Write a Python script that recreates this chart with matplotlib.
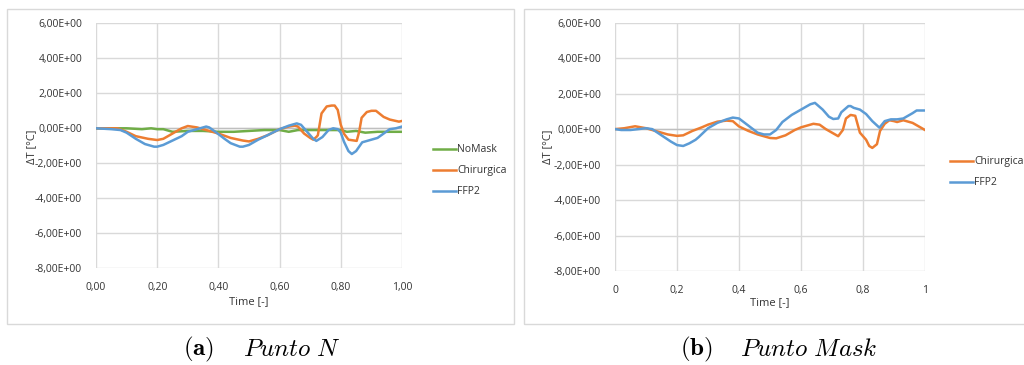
import matplotlib
matplotlib.use("Agg")
import matplotlib.pyplot as plt
from matplotlib.patches import Rectangle

# ---- data: Punto N ----
t_nomask = [0.0, 0.05, 0.1, 0.15, 0.18, 0.2, 0.22, 0.25, 0.3, 0.35, 0.4, 0.45, 0.5, 0.55,
            0.6, 0.63, 0.66, 0.7, 0.75, 0.8, 0.82, 0.85, 0.88, 0.92, 0.95, 1.0]
nomask = [0.0, 0.0, 0.0, -0.05, 0.0, -0.05, -0.05, -0.2, -0.15, -0.15, -0.2, -0.2, -0.15, -0.1,
          -0.1, -0.2, -0.1, -0.1, -0.1, -0.1, -0.2, -0.15, -0.25, -0.2, -0.2, -0.2]

t_chir_n = [0.0, 0.07, 0.1, 0.13, 0.17, 0.2, 0.22, 0.25, 0.28, 0.3, 0.33, 0.37, 0.4, 0.44,
            0.48, 0.5, 0.53, 0.56, 0.6, 0.63, 0.65, 0.66, 0.68, 0.7, 0.71, 0.72, 0.725,
            0.737, 0.754, 0.77, 0.78, 0.79, 0.8, 0.81, 0.825, 0.852, 0.86, 0.868, 0.885,
            0.9, 0.915, 0.94, 0.96, 0.98, 0.99, 1.0]
chir_n = [0.0, 0.0, -0.2, -0.45, -0.6, -0.67, -0.6, -0.3, 0.0, 0.13, 0.05, -0.15, -0.3, -0.55,
          -0.7, -0.75, -0.6, -0.4, -0.05, 0.1, 0.15, 0.1, -0.3, -0.55, -0.65, -0.5, -0.4,
          0.85, 1.25, 1.3, 1.3, 1.05, 0.2, -0.3, -0.65, -0.72, -0.2, 0.6, 0.93,
          1.0, 1.0, 0.65, 0.5, 0.42, 0.38, 0.42]

t_ffp2_n = [0.0, 0.05, 0.08, 0.1, 0.13, 0.16, 0.19, 0.2, 0.22, 0.25, 0.28, 0.3, 0.33, 0.36,
            0.37, 0.39, 0.42, 0.44, 0.47, 0.48, 0.5, 0.53, 0.56, 0.6, 0.63, 0.656, 0.67,
            0.69, 0.71, 0.72, 0.74, 0.76, 0.775, 0.79, 0.8, 0.81, 0.825, 0.836, 0.85,
            0.87, 0.89, 0.92, 0.94, 0.96, 0.98, 1.0]
ffp2_n = [0.0, -0.05, -0.1, -0.25, -0.6, -0.9, -1.05, -1.05, -0.95, -0.7, -0.45, -0.2, -0.05, 0.1,
          0.05, -0.2, -0.6, -0.85, -1.05, -1.05, -0.95, -0.65, -0.4, -0.05, 0.15, 0.28, 0.2,
          -0.2, -0.6, -0.72, -0.5, -0.1, 0.0, -0.05, -0.25, -0.75, -1.3, -1.47, -1.3,
          -0.8, -0.7, -0.55, -0.3, -0.05, 0.0, 0.1]

# ---- data: Punto Mask ----
t_chir_m = [0.0, 0.03, 0.065, 0.1, 0.13, 0.17, 0.2, 0.22, 0.25, 0.28, 0.3, 0.33, 0.36, 0.38,
            0.4, 0.43, 0.46, 0.5, 0.52, 0.55, 0.58, 0.6, 0.64, 0.66, 0.68, 0.71, 0.72,
            0.735, 0.745, 0.76, 0.775, 0.79, 0.81, 0.82, 0.83, 0.845, 0.855, 0.87, 0.885,
            0.9, 0.91, 0.93, 0.96, 1.0]
chir_m = [0.0, 0.05, 0.16, 0.05, -0.1, -0.3, -0.38, -0.35, -0.1, 0.1, 0.25, 0.42, 0.48, 0.45,
          0.15, -0.1, -0.3, -0.5, -0.52, -0.35, -0.05, 0.1, 0.3, 0.25, 0.0, -0.3, -0.4,
          -0.05, 0.6, 0.8, 0.75, -0.2, -0.6, -0.95, -1.06, -0.85, -0.1, 0.3, 0.5,
          0.45, 0.4, 0.5, 0.35, -0.05]

t_ffp2_m = [0.0, 0.02, 0.05, 0.1, 0.12, 0.15, 0.18, 0.2, 0.22, 0.24, 0.26, 0.27, 0.3, 0.33,
            0.36, 0.38, 0.4, 0.43, 0.46, 0.48, 0.5, 0.52, 0.54, 0.57, 0.6, 0.63, 0.645,
            0.67, 0.69, 0.704, 0.72, 0.73, 0.753, 0.76, 0.77, 0.79, 0.81, 0.83, 0.853,
            0.87, 0.89, 0.91, 0.93, 0.96, 0.973, 1.0]
ffp2_m = [0.0, -0.05, -0.05, 0.05, 0.0, -0.35, -0.7, -0.9, -0.95, -0.8, -0.6, -0.45, 0.05, 0.35,
          0.55, 0.65, 0.6, 0.2, -0.2, -0.3, -0.3, -0.05, 0.4, 0.8, 1.1, 1.4, 1.48,
          1.1, 0.7, 0.57, 0.6, 0.95, 1.3, 1.3, 1.2, 1.1, 0.85, 0.45, 0.08,
          0.45, 0.55, 0.55, 0.6, 0.9, 1.05, 1.05]

y_ticks = [6, 4, 2, 0, -2, -4, -6, -8]
y_labels = ["6,00E+00", "4,00E+00", "2,00E+00", "0,00E+00",
            "-2,00E+00", "-4,00E+00", "-6,00E+00", "-8,00E+00"]
x_ticks = [0.0, 0.2, 0.4, 0.6, 0.8, 1.0]
x_labels_a = ["0,00", "0,20", "0,40", "0,60", "0,80", "1,00"]
x_labels_b = ["0", "0,2", "0,4", "0,6", "0,8", "1"]

ORANGE = "#ED7D31"
BLUE = "#5B9BD5"
GREEN = "#70AD47"
GRID = "#d9d9d9"
TXT = "#333333"
FONT = "Open Sans"

W, H = 1024, 365
plt.rcParams["mathtext.fontset"] = "cm"
fig = plt.figure(figsize=(W / 100, H / 100), dpi=100)


def fx(px):
    return px / W


def fy(py):
    return 1 - py / H


# panel frames
fig.patches.append(Rectangle((fx(7), fy(324)), fx(507), (324 - 9) / H,
                             transform=fig.transFigure, fill=False, ec=GRID, lw=1.0))
fig.patches.append(Rectangle((fx(524), fy(324)), fx(520), (324 - 9) / H,
                             transform=fig.transFigure, fill=False, ec=GRID, lw=1.0))


def style_axes(ax, xlabels):
    ax.set_xlim(0, 1)
    ax.set_ylim(-8, 6)
    ax.set_yticks(y_ticks)
    ax.set_yticklabels(y_labels)
    ax.set_xticks(x_ticks)
    ax.set_xticklabels(xlabels)
    for s in ax.spines.values():
        s.set_visible(False)
    ax.grid(True, color=GRID, lw=1.0)
    ax.axhline(0, color="#bfbfbf", lw=1.0, zorder=1)
    ax.tick_params(length=0, labelsize=7.5, colors=TXT, pad=10)
    for lab in ax.get_xticklabels() + ax.get_yticklabels():
        lab.set_fontfamily(FONT)
    ax.set_axisbelow(True)


# (a) Punto N
ax1 = fig.add_axes([fx(96), fy(268.3), fx(306), 245 / H])
style_axes(ax1, x_labels_a)
l_nm, = ax1.plot(t_nomask, nomask, color=GREEN, lw=1.8, label="NoMask")
l_c1, = ax1.plot(t_chir_n, chir_n, color=ORANGE, lw=1.8, label="Chirurgica")
l_f1, = ax1.plot(t_ffp2_n, ffp2_n, color=BLUE, lw=1.8, label="FFP2")
fig.text(fx(32), fy(147), "ΔT [°C]", rotation=90, ha="center", va="center",
         fontsize=8, color=TXT, family=FONT)
fig.text(fx(249), fy(302), "Time [-]", ha="center", va="center",
         fontsize=8, color=TXT, family=FONT)
fig.legend(handles=[l_nm, l_c1, l_f1], loc="upper left",
           bbox_to_anchor=(fx(424), fy(135)), frameon=False, handlelength=2.2,
           handletextpad=0.1, labelspacing=0.95,
           prop={"family": FONT, "size": 7.5}, labelcolor=TXT)

# (b) Punto Mask
ax2 = fig.add_axes([fx(615), fy(271), fx(310), 248.3 / H])
style_axes(ax2, x_labels_b)
l_c2, = ax2.plot(t_chir_m, chir_m, color=ORANGE, lw=1.8, label="Chirurgica")
l_f2, = ax2.plot(t_ffp2_m, ffp2_m, color=BLUE, lw=1.8, label="FFP2")
fig.text(fx(548), fy(147), "ΔT [°C]", rotation=90, ha="center", va="center",
         fontsize=8, color=TXT, family=FONT)
fig.text(fx(770), fy(303), "Time [-]", ha="center", va="center",
         fontsize=8, color=TXT, family=FONT)
fig.legend(handles=[l_c2, l_f2], loc="upper left",
           bbox_to_anchor=(fx(941), fy(147)), frameon=False, handlelength=2.2,
           handletextpad=0.1, labelspacing=0.95,
           prop={"family": FONT, "size": 7.5}, labelcolor=TXT)

# sub-figure captions
CAP = 18
fig.text(fx(183), fy(349), r"$\mathbf{(a)}$", ha="left", va="center", fontsize=CAP)
fig.text(fx(243), fy(349), r"$\mathit{Punto\ N}$", ha="left", va="center", fontsize=CAP)
fig.text(fx(680), fy(349), r"$\mathbf{(b)}$", ha="left", va="center", fontsize=CAP)
fig.text(fx(740), fy(349), r"$\mathit{Punto\ Mask}$", ha="left", va="center", fontsize=CAP)

fig.savefig("out.png", dpi=100)
